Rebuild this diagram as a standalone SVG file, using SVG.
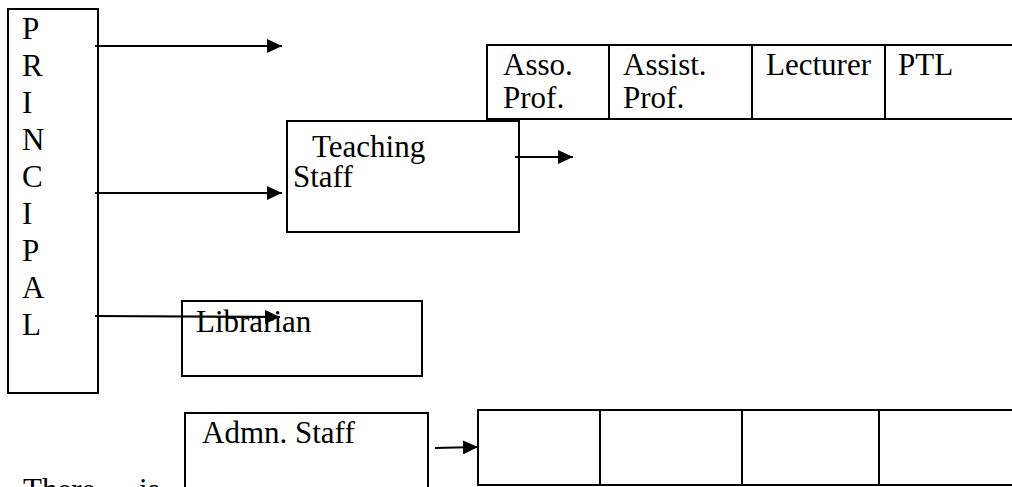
<svg xmlns="http://www.w3.org/2000/svg" width="1012" height="487" viewBox="0 0 1012 487" font-family="'Liberation Serif', 'Times New Roman', serif">
<style>
.box{fill:#fff;stroke:#000;stroke-width:2}
.ln{stroke:#000;stroke-width:2;fill:none}
.t{font-family:'Liberation Serif','Times New Roman',serif;font-size:31px;fill:#000}
.c{stroke:#000;stroke-width:2.2;fill:none;marker-end:url(#ah)}
</style>
<defs>
<marker id="ah" markerUnits="userSpaceOnUse" markerWidth="16" markerHeight="14" refX="15" refY="7" orient="auto">
<path d="M0,0 L15,7 L0,14 Z" fill="#000"/>
</marker>
</defs>
<rect width="1012" height="487" fill="#fff"/>
<g id="principal">
<rect class="box" x="8" y="9" width="90" height="384"/>
<text class="t" x="22" y="39">P</text>
<text class="t" x="22" y="76">R</text>
<text class="t" x="22" y="113">I</text>
<text class="t" x="22" y="150">N</text>
<text class="t" x="22" y="187">C</text>
<text class="t" x="22" y="224">I</text>
<text class="t" x="22" y="261">P</text>
<text class="t" x="22" y="298">A</text>
<text class="t" x="22" y="335">L</text>
</g>
<g id="teaching-ranks">
<rect class="box" x="487" y="45" width="540" height="74"/>
<line class="ln" x1="609" y1="45" x2="609" y2="119"/>
<line class="ln" x1="752" y1="45" x2="752" y2="119"/>
<line class="ln" x1="885" y1="45" x2="885" y2="119"/>
<text class="t" x="503" y="75">Asso.</text>
<text class="t" x="503" y="108">Prof.</text>
<text class="t" x="623" y="75">Assist.</text>
<text class="t" x="623" y="108">Prof.</text>
<text class="t" x="766" y="75">Lecturer</text>
<text class="t" x="898" y="75">PTL</text>
</g>
<g id="teaching-staff">
<rect class="box" x="287" y="121" width="232" height="111"/>
<text class="t" x="312" y="157">Teaching</text>
<text class="t" x="293" y="187">Staff</text>
</g>
<g id="librarian">
<rect class="box" x="182" y="301" width="240" height="75"/>
<text class="t" x="196" y="332">Librarian</text>
</g>
<g id="admn-staff">
<rect class="box" x="185" y="413" width="243" height="90"/>
<text class="t" x="202" y="443">Admn. Staff</text>
</g>
<g id="admn-ranks">
<rect class="box" x="478" y="410" width="550" height="75"/>
<line class="ln" x1="600" y1="410" x2="600" y2="485"/>
<line class="ln" x1="742" y1="410" x2="742" y2="485"/>
<line class="ln" x1="879" y1="410" x2="879" y2="485"/>
</g>
<text class="t" x="23" y="500" word-spacing="36">There is</text>
<g id="connectors">
<line class="c" x1="95" y1="46" x2="282" y2="46"/>
<line class="c" x1="95" y1="193" x2="282" y2="193"/>
<line class="c" x1="95" y1="316" x2="280" y2="317"/>
<line class="c" x1="515" y1="157" x2="573" y2="157"/>
<line class="c" x1="435" y1="448" x2="478" y2="447"/>
</g>
</svg>
